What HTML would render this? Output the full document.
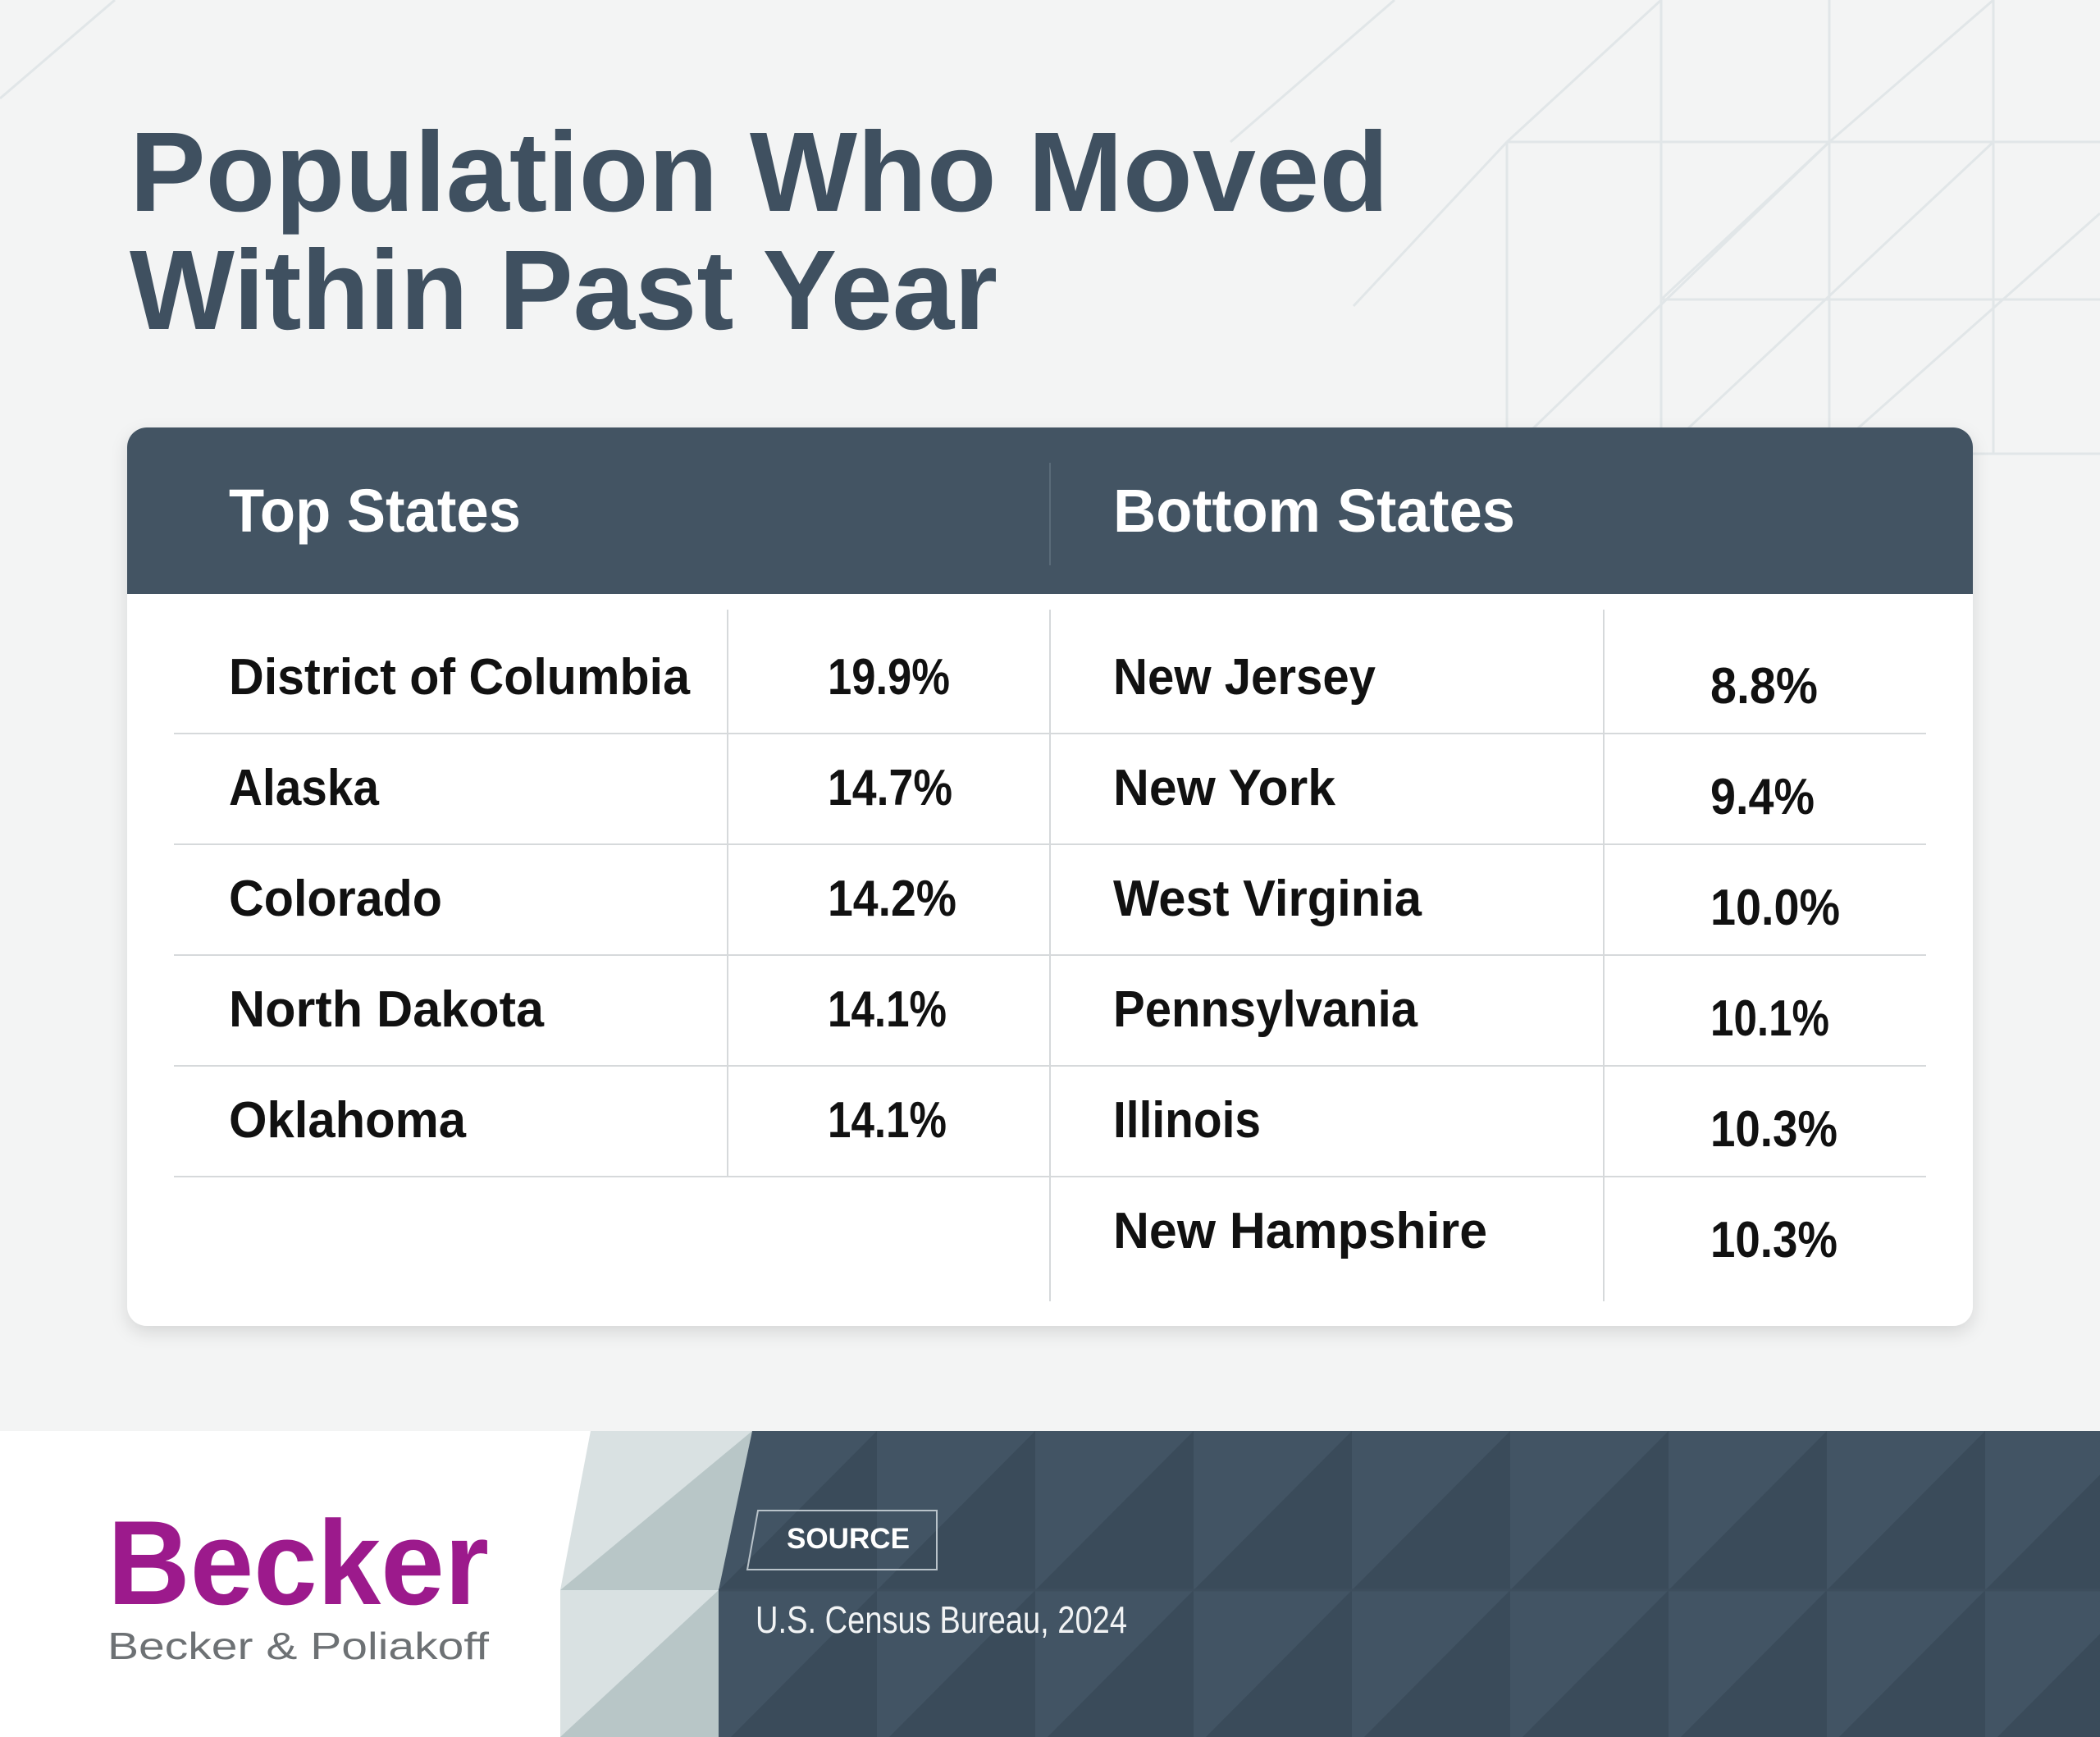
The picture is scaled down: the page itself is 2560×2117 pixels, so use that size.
<!DOCTYPE html>
<html><head><meta charset="utf-8"><style>html,body{margin:0;padding:0;background:#f3f4f4}svg{display:block}</style></head>
<body>
<svg xmlns="http://www.w3.org/2000/svg" width="2560" height="2117" viewBox="0 0 2560 2117" font-family="Liberation Sans, sans-serif">
<defs>
<filter id="sh" x="-5%" y="-5%" width="110%" height="115%"><feDropShadow dx="0" dy="8" stdDeviation="10" flood-color="#000" flood-opacity="0.12"/></filter>
<pattern id="tri" x="876" y="1744" width="193" height="194" patternUnits="userSpaceOnUse">
<rect width="193" height="194" fill="#425464"/>
<polygon points="0,194 193,0 193,194" fill="#3a4b5a"/>
</pattern>
<clipPath id="cardclip"><rect x="155" y="521" width="2250" height="1095" rx="24"/></clipPath>
</defs>
<rect width="2560" height="2117" fill="#f3f4f4"/>
<!-- background pattern lines -->
<g stroke="#e1e6e8" stroke-width="3" fill="none">
<line x1="1837" y1="173" x2="2560" y2="173"/>
<line x1="2025" y1="365" x2="2560" y2="365"/>
<line x1="1200" y1="553" x2="2560" y2="553"/>
<line x1="1837" y1="173" x2="1837" y2="553"/>
<line x1="2025" y1="0" x2="2025" y2="553"/>
<line x1="2230" y1="0" x2="2230" y2="553"/>
<line x1="1837" y1="173" x2="2025" y2="0"/>
<line x1="2025" y1="365" x2="2230" y2="173"/>
<line x1="2230" y1="173" x2="2430" y2="0"/>
<line x1="2230" y1="553" x2="2560" y2="260"/>
<line x1="1837" y1="553" x2="2230" y2="173"/>
<line x1="2430" y1="0" x2="2430" y2="553"/>
<line x1="2025" y1="553" x2="2430" y2="173"/>
<line x1="1500" y1="173" x2="1700" y2="0"/>
<line x1="0" y1="120" x2="140" y2="0"/>
<line x1="1650" y1="373" x2="1837" y2="173"/>
</g>
<!-- title -->
<g fill="#3f5060" font-weight="bold" font-size="138">
<text x="158" y="257" textLength="1535" lengthAdjust="spacingAndGlyphs">Population Who Moved</text>
<text x="158" y="401" textLength="1058" lengthAdjust="spacingAndGlyphs">Within Past Year</text>
</g>
<!-- card -->
<rect x="155" y="521" width="2250" height="1095" rx="24" fill="#fff" filter="url(#sh)"/>
<g clip-path="url(#cardclip)"><rect x="155" y="521" width="2250" height="203" fill="#435463"/></g>
<line x1="1280" y1="564" x2="1280" y2="689" stroke="#5a6a78" stroke-width="2"/>
<g fill="#fff" font-weight="bold" font-size="74">
<text x="279" y="648" textLength="356" lengthAdjust="spacingAndGlyphs">Top States</text>
<text x="1357" y="648" textLength="490" lengthAdjust="spacingAndGlyphs">Bottom States</text>
</g>
<g stroke="#d6d9db" stroke-width="2">
<line x1="212" y1="894" x2="2348" y2="894"/>
<line x1="212" y1="1029" x2="2348" y2="1029"/>
<line x1="212" y1="1164" x2="2348" y2="1164"/>
<line x1="212" y1="1299" x2="2348" y2="1299"/>
<line x1="212" y1="1434" x2="2348" y2="1434"/>
<line x1="887" y1="743" x2="887" y2="1434"/>
<line x1="1280" y1="743" x2="1280" y2="1586"/>
<line x1="1955" y1="743" x2="1955" y2="1586"/>
</g>
<g fill="#111" font-weight="bold" font-size="62">
<text x="279" y="846" textLength="562" lengthAdjust="spacingAndGlyphs">District of Columbia</text>
<text x="279" y="981" textLength="183" lengthAdjust="spacingAndGlyphs">Alaska</text>
<text x="279" y="1116" textLength="260" lengthAdjust="spacingAndGlyphs">Colorado</text>
<text x="279" y="1251" textLength="384" lengthAdjust="spacingAndGlyphs">North Dakota</text>
<text x="279" y="1386" textLength="289" lengthAdjust="spacingAndGlyphs">Oklahoma</text>
<text x="1009" y="846" textLength="149" lengthAdjust="spacingAndGlyphs">19.9%</text>
<text x="1009" y="981" textLength="152" lengthAdjust="spacingAndGlyphs">14.7%</text>
<text x="1009" y="1116" textLength="157" lengthAdjust="spacingAndGlyphs">14.2%</text>
<text x="1009" y="1251" textLength="145" lengthAdjust="spacingAndGlyphs">14.1%</text>
<text x="1009" y="1386" textLength="145" lengthAdjust="spacingAndGlyphs">14.1%</text>
<text x="1357" y="846" textLength="320" lengthAdjust="spacingAndGlyphs">New Jersey</text>
<text x="1357" y="981" textLength="271" lengthAdjust="spacingAndGlyphs">New York</text>
<text x="1357" y="1116" textLength="376" lengthAdjust="spacingAndGlyphs">West Virginia</text>
<text x="1357" y="1251" textLength="371" lengthAdjust="spacingAndGlyphs">Pennsylvania</text>
<text x="1357" y="1386" textLength="180" lengthAdjust="spacingAndGlyphs">Illinois</text>
<text x="1357" y="1521" textLength="456" lengthAdjust="spacingAndGlyphs">New Hampshire</text>
<text x="2085" y="857" textLength="131" lengthAdjust="spacingAndGlyphs">8.8%</text>
<text x="2085" y="992" textLength="127" lengthAdjust="spacingAndGlyphs">9.4%</text>
<text x="2085" y="1127" textLength="158" lengthAdjust="spacingAndGlyphs">10.0%</text>
<text x="2085" y="1262" textLength="145" lengthAdjust="spacingAndGlyphs">10.1%</text>
<text x="2085" y="1397" textLength="155" lengthAdjust="spacingAndGlyphs">10.3%</text>
<text x="2085" y="1532" textLength="155" lengthAdjust="spacingAndGlyphs">10.3%</text>
</g>
<!-- footer -->
<rect x="0" y="1744" width="2560" height="373" fill="#fff"/>
<polygon points="720,1744 917,1744 876,1938 876,2117 683,2117 683,1938" fill="#d9e1e2"/>
<polygon points="683,1938 917,1744 876,1938" fill="#b8c6c7"/>
<polygon points="683,2117 876,1938 876,2117" fill="#b8c6c7"/>
<polygon points="917,1744 2560,1744 2560,2117 876,2117 876,1938" fill="url(#tri)"/>
<line x1="876" y1="1938" x2="2560" y2="1938" stroke="#3d4e5d" stroke-width="3"/>
<polygon points="924,1841 1142,1841 1142,1913 911,1913" fill="none" stroke="#b9c3ca" stroke-width="2"/>
<text x="959" y="1887" fill="#fff" font-weight="bold" font-size="35" textLength="150" lengthAdjust="spacingAndGlyphs">SOURCE</text>
<text x="921" y="1990" fill="#f1f3f4" font-size="46" textLength="453" lengthAdjust="spacingAndGlyphs">U.S. Census Bureau, 2024</text>
<text x="131" y="1955" fill="#9c1a8c" font-weight="bold" font-size="146" textLength="465" lengthAdjust="spacingAndGlyphs">Becker</text>
<text x="131" y="2022" fill="#6d7174" font-size="46" textLength="465" lengthAdjust="spacingAndGlyphs">Becker &amp; Poliakoff</text>
</svg>
</body></html>
